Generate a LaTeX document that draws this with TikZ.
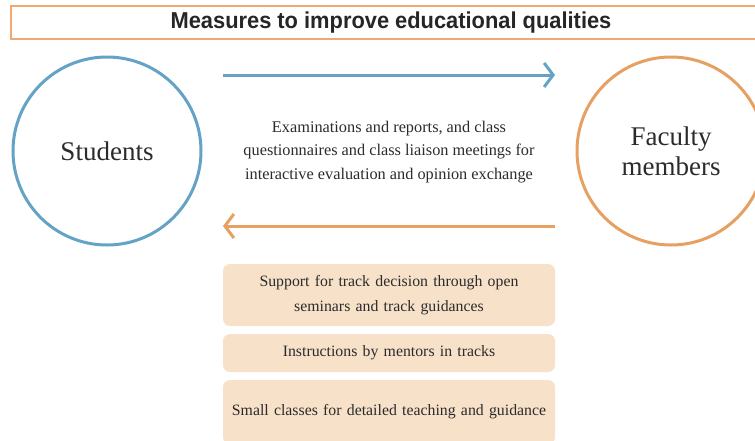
\documentclass[tikz,border=0pt]{standalone}
\usepackage{fontspec}
\setmainfont{Liberation Serif}
\newfontfamily\headfont[FakeStretch=0.95]{Liberation Sans}
\usetikzlibrary{arrows.meta,positioning}
\definecolor{ink}{HTML}{2B2B2B}
\definecolor{lake}{HTML}{64A3C6}
\definecolor{amber}{HTML}{E6A062}
\definecolor{frame}{HTML}{F2A86E}
\definecolor{peach}{HTML}{F7E1C9}

\begin{document}
\begin{tikzpicture}[x=1pt,y=-1pt,
  party/.style={circle,minimum size=188pt,line width=3pt,text=ink,font=\fontsize{27}{30}\selectfont,align=center},
  flow/.style={line width=3pt,-{Straight Barb[length=9pt,width=24pt,line width=3pt]}},
  measure/.style={fill=peach,rounded corners=7pt,minimum width=332pt,text width=325pt,align=center,text=ink,font=\fontsize{15.8}{25}\selectfont}]
  \useasboundingbox (0,0) rectangle (755,440);
  % heading
  \node[draw=frame,line width=2pt,minimum width=780pt,minimum height=33pt,font=\headfont\bfseries\fontsize{23}{26}\selectfont,text=black!85] (head) at (401,22.5) {\hspace*{-20pt}\raisebox{-2pt}{Measures to improve educational qualities}};
  % the two sides
  \node[party,draw=lake] (students) at (107,151) {Students};
  \node[party,draw=amber] (faculty) at (671,151) {Faculty\\members};
  % exchange between them
  \coordinate (s0) at (223,75);
  \coordinate (s1) at (555,75);
  \coordinate (f0) at (555,226);
  \coordinate (f1) at (223,226);
  \draw[flow,lake] (s0) -- (s1);
  \draw[flow,amber] (f0) -- (f1);
  \node[text=ink,align=center,font=\fontsize{16.3}{23.5}\selectfont] (exchange) at (389,152)
    {Examinations and reports, and class\\questionnaires and class liaison meetings for\\interactive evaluation and opinion exchange};
  % support measures
  \node[measure,minimum height=62pt] (track) at (389,295) {Support for track decision through open\\seminars and track guidances};
  \node[measure,minimum height=38pt] (mentor) at (389,353) {Instructions by mentors in tracks};
  \node[measure,minimum height=64pt] (small) at (389,412) {Small classes for detailed teaching and guidance};
\end{tikzpicture}
\end{document}
